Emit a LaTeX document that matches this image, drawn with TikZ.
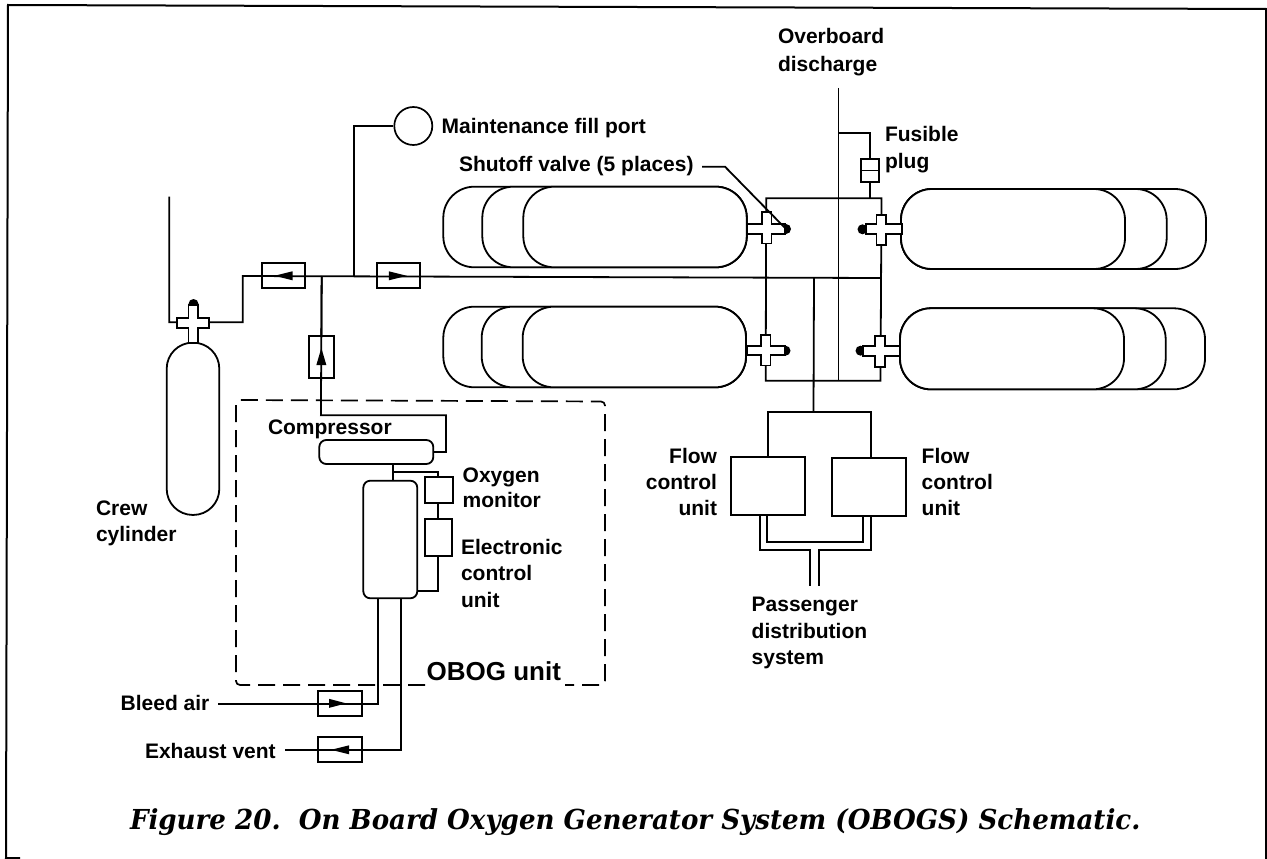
\documentclass[tikz,border=0pt]{standalone}
\usepackage{fontspec}
\setmainfont{Liberation Sans}
\newfontfamily\capfont[FakeStretch=0.95]{DejaVu Serif}
\tikzset{
  lbl/.style={inner sep=0pt,outer sep=0pt,anchor=base west,font=\bfseries\fontsize{21}{25}\selectfont},
  lblr/.style={lbl,anchor=base east},
  pipe/.style={line width=1.8pt,line join=miter},
  boxy/.style={draw,line width=1.8pt,rectangle,inner sep=0pt,outer sep=0pt},
  roundy/.style={boxy,rounded corners=7pt,fill=white},
  tank/.style={boxy,rounded corners=31pt,fill=white},
  valveshape/.style={draw,line width=1.7pt,fill=white,line join=miter},
  tip/.style={fill=black},
  dashy/.style={line width=1.7pt,dash pattern=on 17pt off 8pt},
}
% name, left, top, right, bottom, style
\newcommand{\bx}[6]{\node[#6,minimum width={#4-#2 pt},minimum height={#5-#3 pt}] (#1) at ({(#2+#4)/2},{(#3+#5)/2}) {};}
% name cx cy L R U D
\newcommand{\valvecross}[7]{%
  \begin{scope}[shift={(#2,#3)}]
    \draw[valveshape] (-4.7,-4.7) -- (-4.7,-#6) -- (4.7,-#6) -- (4.7,-4.7) -- (#5,-4.7) -- (#5,4.7) -- (4.7,4.7) -- (4.7,#7) -- (-4.7,#7) -- (-4.7,4.7) -- (-#4,4.7) -- (-#4,-4.7) -- cycle;
    \coordinate (#1) at (0,0);
  \end{scope}}
\begin{document}
\begin{tikzpicture}[x=1pt,y=-1pt]
\useasboundingbox (0,0) rectangle (1267,859);
\fill[white] (0,0) rectangle (1267,859);
% page frame
\coordinate (fa) at (8,5);
\coordinate (fb) at (1266,9);
\coordinate (fc) at (1266,859);
\coordinate (fd) at (6,858);
\coordinate (fe) at (20,858);
\draw[line width=2pt] (fc) -- (fb) -- (fa) -- (fd) -- (fe);

% tanks
\bx{tla}{443.3}{186.7}{746.7}{267.3}{tank}
\bx{tlb}{482.3}{186.7}{746.7}{267.3}{tank}
\bx{tlc}{523.3}{186.7}{746.7}{267.3}{tank}
\bx{bla}{443.3}{306.7}{746}{387.3}{tank}
\bx{blb}{481.7}{306.7}{746}{387.3}{tank}
\bx{blc}{522.7}{306.7}{746}{387.3}{tank}
\bx{tra}{901}{189}{1206}{269}{tank}
\bx{trb}{901}{189}{1166.7}{269}{tank}
\bx{trc}{901}{189}{1125}{269}{tank}
\bx{bra}{900}{308.3}{1205}{389.3}{tank}
\bx{brb}{900}{308.3}{1165.7}{389.3}{tank}
\bx{brc}{900}{308.3}{1124}{389.3}{tank}
% crew cylinder
\node[boxy,rounded corners=26pt,minimum width=52.6pt,minimum height=172.3pt] (crewcyl) at (193,428.8) {};

% boxes
\bx{lv}{262}{263.3}{305}{288.3}{boxy}
\bx{rv}{377.3}{263.3}{420.3}{288.3}{boxy}
\bx{uv}{308.7}{336}{334}{378}{boxy}
\bx{bv}{318.3}{691}{362}{715.7}{boxy}
\bx{ev}{318.3}{737.3}{362}{762.3}{boxy}
\bx{comp}{319.3}{440}{433.3}{464}{roundy}
\bx{gen}{363.3}{480.7}{417.3}{598.3}{roundy}
\bx{oxm}{425}{476.7}{452.7}{503.3}{boxy}
\bx{ecu}{425}{519.3}{451.7}{556}{boxy}
\bx{fcl}{731}{457.3}{805.3}{515.3}{boxy}
\bx{fcr}{832.3}{458}{906.3}{515.7}{boxy}
\bx{plug}{861.3}{159}{879}{181.7}{boxy}
\node[draw,circle,line width=1.7pt,inner sep=0pt,minimum size=38pt] (fill) at (413.3,126) {};
\draw[line width=1.5pt] (plug.west) -- (plug.east);

% named junctions and free ends
\coordinate (crewtop) at (169.3,196.7);
\coordinate (crewelbow) at (169.3,322.3);
\coordinate (crewright) at (242.7,322.3);
\coordinate (crewup) at (242.7,276);
\coordinate (jup) at (321.7,276);
\coordinate (jfill) at (354.3,276);
\coordinate (jfilltop) at (354.3,126);
\coordinate (mainend) at (881,278);
\coordinate (ovtop) at (838.5,88);
\coordinate (ovbot) at (838.5,380.7);
\coordinate (fustee) at (838.5,132.7);
\coordinate (fuscorner) at (870,132.7);
\coordinate (fusbot) at (870,198.3);
\coordinate (mtl) at (766.2,198.3);
\coordinate (mtr) at (881.5,198.3);
\coordinate (mbl) at (765.7,380.7);
\coordinate (mbr) at (880.5,380.7);
\coordinate (feedtop) at (814,278);
\coordinate (feedbot) at (813.5,412);
\coordinate (fcltop) at (767.7,412);
\coordinate (fcrtop) at (870.7,412);
\coordinate (fcc) at (320.9,415.3);
\coordinate (fcd) at (446,415.3);
\coordinate (fce) at (446,452);
\coordinate (genA) at (393.3,464);
\coordinate (genB) at (393.3,480.7);
\coordinate (oxA) at (393.3,471.7);
\coordinate (oxB) at (438.3,471.7);
\coordinate (ecuA) at (437.7,591);
\coordinate (bleedstart) at (218.3,704);
\coordinate (bleedcorner) at (377.7,704);
\coordinate (bleedtop) at (377.7,598.3);
\coordinate (exhstart) at (285,749.7);
\coordinate (exhcorner) at (401.3,749.7);
\coordinate (exhtop) at (401.3,598.3);

% pipework
\draw[pipe] (crewtop) -- (crewelbow) -- (crewright) -- (crewup) -- (mainend);
\draw[pipe] (jfill) -- (jfilltop) -- (fill.west);
\draw[pipe] (jup) -- (uv.north);
\draw[pipe] (jup) -- (fcc) -- (fcd) -- (fce) -- (comp.east |- fce);
\draw[pipe] (genA) -- (genB);
\draw[pipe] (oxA) -- (oxB) -- (oxB |- oxm.north);
\draw[pipe] (oxm.south -| ecu.north) -- (ecu.north);
\draw[pipe] (ecuA |- ecu.south) -- (ecuA) -- (gen.east |- ecuA);
\draw[pipe] (bleedstart) -- (bleedcorner) -- (bleedtop);
\draw[pipe] (exhstart) -- (exhcorner) -- (exhtop);
\draw[pipe] (ovtop) -- (ovbot);
\draw[pipe] (fustee) -- (fuscorner) -- (plug.north -| fuscorner);
\draw[pipe] (plug.south -| fuscorner) -- (fusbot);
\draw[pipe] (mbl) -- (mtl) -- (mtr) -- (mbr) -- cycle;
\draw[pipe] (feedtop) -- (feedbot);
\draw[pipe] (fcltop |- fcl.north) -- (fcltop) -- (fcrtop) -- (fcrtop |- fcr.north);
% double lines to distribution
\coordinate (dla) at (760,515.3);
\coordinate (dlb) at (760,549.7);
\coordinate (dlc) at (810,549.7);
\coordinate (dld) at (810,586);
\coordinate (dra) at (871,515.7);
\coordinate (drb) at (871,549.7);
\coordinate (drc) at (819.3,549.7);
\coordinate (drd) at (819.3,586);
\coordinate (ina) at (767.3,515.3);
\coordinate (inb) at (767.3,542.3);
\coordinate (inc) at (862.7,542.3);
\coordinate (ind) at (862.7,515.7);
\draw[pipe] (dla) -- (dlb) -- (dlc) -- (dld);
\draw[pipe] (dra) -- (drb) -- (drc) -- (drd);
\draw[pipe] (ina) -- (inb) -- (inc) -- (ind);

% check valve arrows
\fill (lv.center) ++(-9,0) -- ++(18,-4.5) -- ++(0,9) -- cycle;
\fill (rv.center) ++(8,0) -- ++(-18,-4.5) -- ++(0,9) -- cycle;
\fill (uv.center) ++(0,-9) -- ++(-5,17) -- ++(10,0) -- cycle;
\fill (bv.center) ++(6,0) -- ++(-17,-4.5) -- ++(0,9) -- cycle;
\fill (ev.center) ++(-9,0) -- ++(18,-4.5) -- ++(0,9) -- cycle;

% dashed outline of the OBOG unit
\coordinate (da) at (425,685);
\coordinate (db) at (236,685);
\coordinate (dc) at (236,400);
\coordinate (dd) at (605,401.5);
\coordinate (de) at (605,685);
\coordinate (df) at (565,685);
\draw[dashy,rounded corners=4pt] (da) -- (db) -- (dc) -- (dd) -- (de) -- (df);

% shutoff valves
\coordinate (tipa) at (786,229);
\coordinate (tipb) at (862.5,229.3);
\coordinate (tipc) at (785.5,350.7);
\coordinate (tipd) at (860.5,350.7);
\coordinate (tipe) at (193.5,304);
\fill[tip] (tipa) circle (5pt);
\fill[tip] (tipb) circle (5pt);
\fill[tip] (tipc) circle (5pt);
\fill[tip] (tipd) circle (5pt);
\fill[tip] (tipe) circle (5pt);
\valvecross{vua}{766.7}{229}{20}{18}{17}{14.5}
\valvecross{vub}{881.2}{229}{15}{20.5}{14}{16}
\valvecross{vuc}{765.7}{350.5}{19}{19}{15.5}{15}
\valvecross{vud}{880}{351}{17}{20}{15}{15.7}
\valvecross{vue}{193.3}{323}{16.5}{16}{18}{20}

% leader to shutoff valve
\coordinate (lead) at (702,166.7);
\coordinate (leadk) at (725,166.7);
\draw[pipe] (lead) -- (leadk) -- (tipa);

% labels
\node[lbl] (t1) at (778,44) {Overboard};
\node[lbl] (t2) at (778,71) {discharge};
\node[lbl] (t3) at (885,141.7) {Fusible};
\node[lbl] (t4) at (885,168.3) {plug};
\node[lbl] (t5) at (441.7,133.5) {Maintenance fill port};
\node[lbl] (t6) at (459,171) {Shutoff valve (5 places)};
\node[lbl] (t7) at (96,515) {Crew};
\node[lbl] (t8) at (96,541.7) {cylinder};
\node[lbl] (t9) at (268,434.3) {Compressor};
\node[lbl] (t10) at (462.7,482.3) {Oxygen};
\node[lbl] (t11) at (462.7,507.7) {monitor};
\node[lbl] (t12) at (461,554) {Electronic};
\node[lbl] (t13) at (461,580.7) {control};
\node[lbl] (t14) at (461,607.3) {unit};
\node[lbl,font=\bfseries\fontsize{26}{30}\selectfont] (t15) at (426.7,680) {OBOG unit};
\node[lbl] (t16) at (120.7,710.7) {Bleed air};
\node[lbl] (t17) at (145,758.3) {Exhaust vent};
\node[lblr] (t18) at (717,463.3) {Flow};
\node[lblr] (t19) at (717,489.3) {control};
\node[lblr] (t20) at (717,515) {unit};
\node[lbl] (t21) at (921.7,463.3) {Flow};
\node[lbl] (t22) at (921.7,489.3) {control};
\node[lbl] (t23) at (921.7,515) {unit};
\node[lbl] (t24) at (751.7,611.7) {Passenger};
\node[lbl] (t25) at (751.7,638) {distribution};
\node[lbl] (t26) at (751.7,664) {system};
\node[lbl,font=\capfont\bfseries\itshape\fontsize{27.5}{32}\selectfont] (cap) at (130,829.5) {Figure 20.\ \ On Board Oxygen Generator System (OBOGS) Schematic.};
\end{tikzpicture}
\end{document}
